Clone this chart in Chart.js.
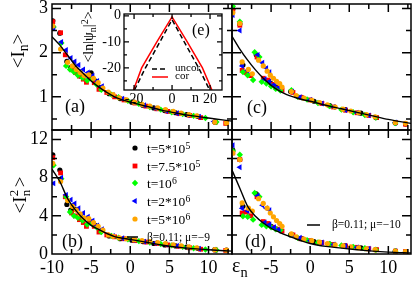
<!DOCTYPE html>
<html>
<head>
<meta charset="utf-8">
<script src="https://cdn.jsdelivr.net/npm/chart.js@4.4.1/dist/chart.umd.min.js"></script>
<style>
body { margin: 0; background: #fff; }
#fig { position: relative; width: 415px; height: 286px; overflow: hidden; font-family: "Liberation Serif", serif; color: #000; }
#fig canvas { position: absolute; left: 0; top: 0; }
.t { position: absolute; white-space: nowrap; line-height: 1; }
.rot { position: absolute; white-space: nowrap; line-height: 1; transform: translate(-50%, -50%) rotate(-90deg); }
.sb { font-size: .72em; position: relative; top: .32em; }
.sp { font-size: .72em; position: relative; top: -.45em; }
</style>
</head>
<body>
<div id="fig">
  <canvas id="pa" width="415" height="286"></canvas>
  <canvas id="pb" width="415" height="286"></canvas>
  <canvas id="pc" width="415" height="286"></canvas>
  <canvas id="pd" width="415" height="286"></canvas>
  <canvas id="pe" width="415" height="286"></canvas>

  <div class="rot" style="left:17px;top:51px;font-size:19px">&lt;I<span class="sb">n</span>&gt;</div>
  <div class="rot" style="left:19px;top:195px;font-size:19px">&lt;I<span style="display:inline-block;position:relative;width:9px;height:1px"><span style="position:absolute;left:0;top:-18px;font-size:13px">2</span><span style="position:absolute;left:0;top:-6px;font-size:13px">n</span></span>&gt;</div>
  <div class="rot" style="left:89px;top:37px;font-size:14px">&lt;ln|ψ<span class="sb">n</span>|<span class="sp">2</span>&gt;</div>

  <div class="t" style="left:65px;top:97px;font-size:18px">(a)</div>
  <div class="t" style="left:62px;top:232px;font-size:18px">(b)</div>
  <div class="t" style="left:247px;top:98px;font-size:18px">(c)</div>
  <div class="t" style="left:245px;top:232px;font-size:18px">(d)</div>
  <div class="t" style="left:192px;top:22px;font-size:16px">(e)</div>

  <div class="t" style="left:232px;top:255px;font-size:20px">ε<span class="sb">n</span></div>
  <div class="t" style="left:192px;top:91px;font-size:14px">n</div>

  <div class="t" style="left:147px;top:142px;font-size:13.5px">t=5*10<span class="sp">5</span></div>
  <div class="t" style="left:147px;top:160px;font-size:13.5px">t=7.5*10<span class="sp">5</span></div>
  <div class="t" style="left:147px;top:177px;font-size:13.5px">t=10<span class="sp">6</span></div>
  <div class="t" style="left:147px;top:195px;font-size:13.5px">t=2*10<span class="sp">6</span></div>
  <div class="t" style="left:147px;top:213px;font-size:13.5px">t=5*10<span class="sp">6</span></div>
  <div class="t" style="left:147px;top:232px;font-size:11.5px">β=0.11; μ=−9</div>
  <div class="t" style="left:332px;top:219px;font-size:11.5px">β=0.11; μ=−10</div>

  <div class="t" style="left:175px;top:62px;font-size:11px">uncor</div>
  <div class="t" style="left:175px;top:70px;font-size:11px">cor</div>
</div>

<script>
// ---- data ----
const seriesLabels = ['t=5*10^5', 't=7.5*10^5', 't=10^6', 't=2*10^6', 't=5*10^6'];

// left column, panels (a) <I_n> and (b) <I_n^2>
const epsLeft = [
  [-9.9, -9.0, -8.1, -7.6, -7.1, -6.4, -5.0, -4.5, -3.9, -2.7, -1.3, 0.2, 1.6, 3.0, 4.4, 5.8, 7.2, 8.6, 10.8, 12.3],
  [-9.9, -8.9, -8.3, -7.5, -7.0, -6.5, -6.0, -5.6, -5.2, -4.6, -4.0, -3.0, -2.0, -0.8, 0.6, 2.0, 3.4, 4.8, 6.2, 7.6, 9.0, 10.9, 12.2],
  [-9.8, -8.8, -8.2, -7.7, -7.2, -6.7, -6.1, -5.5, -4.9, -4.3, -3.7, -2.4, -1.5, -0.3, 1.1, 2.5, 3.9, 5.3, 6.7, 8.1, 9.6, 11.0],
  [-9.8, -8.8, -8.2, -7.6, -7.1, -6.6, -6.0, -5.4, -4.8, -4.2, -3.6, -2.2, -1.0, 0.4, 1.8, 3.2, 4.6, 6.0, 7.4, 8.8, 10.7],
  [-9.9, -8.9, -8.0, -7.4, -6.9, -6.4, -5.9, -5.3, -4.7, -4.1, -3.5, -2.8, -2.2, -1.4, -0.5, 0.5, 1.5, 2.5, 3.5, 4.5, 5.5, 6.5, 7.5, 8.5, 10.8, 12.3]
];
const meanA = [
  [2.72, 2.44, 1.80, 1.66, 1.64, 1.47, 1.54, 1.36, 1.21, 1.07, 0.96, 0.88, 0.81, 0.75, 0.69, 0.64, 0.60, 0.56, 0.43, 0.41],
  [2.70, 2.45, 1.95, 1.62, 1.55, 1.47, 1.40, 1.33, 1.45, 1.32, 1.17, 1.10, 1.00, 0.93, 0.86, 0.79, 0.73, 0.67, 0.62, 0.58, 0.53, 0.43, 0.40],
  [2.58, 2.22, 1.70, 1.62, 1.56, 1.49, 1.43, 1.37, 1.40, 1.28, 1.16, 1.05, 0.99, 0.91, 0.84, 0.77, 0.71, 0.65, 0.61, 0.57, 0.52, 0.43],
  [2.55, 2.24, 2.06, 1.88, 1.80, 1.72, 1.62, 1.55, 1.48, 1.36, 1.24, 1.04, 0.96, 0.88, 0.81, 0.74, 0.68, 0.63, 0.59, 0.55, 0.44],
  [2.60, 2.08, 1.78, 1.70, 1.62, 1.55, 1.48, 1.50, 1.42, 1.32, 1.20, 1.11, 1.05, 0.98, 0.93, 0.88, 0.83, 0.79, 0.75, 0.71, 0.67, 0.63, 0.60, 0.57, 0.43, 0.41]
];
const squareB = [
  [10.4, 8.8, 5.2, 4.6, 4.7, 4.0, 3.4, 3.0, 2.4, 1.9, 1.6, 1.45, 1.3, 1.1, 0.95, 0.85, 0.72, 0.6, 0.45, 0.4],
  [10.1, 8.5, 6.0, 4.3, 4.0, 3.6, 3.3, 2.9, 3.4, 2.9, 2.3, 2.0, 1.8, 1.6, 1.4, 1.25, 1.1, 0.95, 0.8, 0.65, 0.5, 0.42, 0.38],
  [9.3, 7.9, 6.0, 4.4, 4.0, 3.8, 3.5, 3.1, 3.2, 2.8, 2.3, 1.9, 1.7, 1.55, 1.35, 1.2, 1.05, 0.9, 0.75, 0.6, 0.47, 0.42],
  [7.4, 8.0, 6.2, 5.7, 5.3, 4.8, 4.3, 3.9, 3.5, 3.0, 2.6, 1.9, 1.65, 1.45, 1.3, 1.15, 1.0, 0.85, 0.7, 0.55, 0.45],
  [9.5, 7.6, 5.6, 5.0, 4.6, 4.2, 3.8, 3.7, 3.3, 2.9, 2.5, 2.0, 1.85, 1.7, 1.6, 1.5, 1.4, 1.3, 1.2, 1.1, 0.95, 0.85, 0.75, 0.65, 0.45, 0.4]
];

// right column, panels (c) <I_n> and (d) <I_n^2>
const epsRight = [
  [-9.9, -9.0, -8.6, -6.9, -5.0, -4.3, -2.5, -1.0, 0.5, 2.5, 4.5, 6.5, 8.4, 10.9, 12.2],
  [-9.9, -9.0, -8.7, -8.2, -7.6, -6.8, -6.0, -5.4, -4.8, -4.2, -3.6, -2.2, -1.2, 0.0, 1.5, 3.0, 4.5, 6.0, 7.5, 8.5, 10.9, 12.2],
  [-9.9, -9.0, -8.6, -8.0, -7.3, -7.1, -6.5, -6.2, -5.6, -5.0, -4.4, -3.8, -2.4, -1.6, -0.4, 1.0, 2.5, 4.0, 5.5, 7.0, 8.4, 10.9],
  [-9.9, -9.0, -8.7, -8.0, -6.7, -6.1, -5.6, -5.2, -5.8, -5.2, -4.6, -4.0, -2.3, -1.3, 0.0, 1.5, 3.0, 4.5, 6.0, 7.5, 10.9],
  [-9.9, -9.0, -8.7, -7.9, -7.4, -6.6, -6.0, -5.5, -5.1, -4.7, -4.3, -3.9, -3.6, -2.4, -1.8, -0.8, 0.2, 1.2, 2.2, 3.2, 4.2, 5.2, 6.2, 7.2, 8.3, 10.9, 12.2]
];
const meanC = [
  [2.98, 2.65, 1.72, 1.95, 1.30, 1.22, 1.12, 0.98, 0.90, 0.80, 0.71, 0.63, 0.53, 0.41, 0.39],
  [2.96, 2.62, 1.60, 1.55, 1.48, 1.90, 1.42, 1.38, 1.28, 1.20, 1.15, 1.10, 0.99, 0.93, 0.85, 0.77, 0.70, 0.64, 0.58, 0.53, 0.42, 0.38],
  [3.05, 2.70, 1.56, 1.49, 1.38, 2.01, 1.90, 1.34, 1.30, 1.24, 1.18, 1.14, 1.15, 1.00, 0.94, 0.86, 0.79, 0.71, 0.65, 0.59, 0.53, 0.41],
  [2.85, 2.50, 1.70, 1.60, 1.95, 1.77, 1.65, 1.56, 1.40, 1.35, 1.28, 1.22, 1.12, 0.99, 0.93, 0.85, 0.77, 0.70, 0.64, 0.58, 0.42],
  [2.90, 2.66, 1.79, 1.62, 1.52, 1.83, 1.70, 1.58, 1.49, 1.42, 1.35, 1.30, 1.22, 1.12, 1.03, 0.97, 0.92, 0.87, 0.82, 0.77, 0.72, 0.68, 0.64, 0.60, 0.55, 0.42, 0.40]
];
const squareD = [
  [10.9, 9.9, 5.0, 6.3, 2.9, 2.6, 2.0, 1.6, 1.3, 1.05, 0.85, 0.65, 0.45, 0.3, 0.25],
  [10.6, 9.9, 4.3, 4.4, 4.0, 6.0, 3.4, 3.2, 2.8, 2.6, 2.4, 2.0, 1.6, 1.4, 1.2, 1.0, 0.85, 0.7, 0.55, 0.45, 0.3, 0.25],
  [10.8, 10.4, 3.95, 3.9, 3.6, 6.4, 6.0, 3.05, 2.9, 2.8, 2.6, 2.5, 2.0, 1.7, 1.45, 1.2, 1.05, 0.9, 0.75, 0.6, 0.45, 0.3],
  [11.4, 9.1, 4.8, 4.5, 6.1, 5.1, 4.8, 4.6, 3.3, 3.1, 2.8, 2.6, 2.0, 1.7, 1.4, 1.2, 1.0, 0.85, 0.7, 0.55, 0.3],
  [10.6, 9.9, 5.35, 4.8, 4.5, 5.8, 5.3, 4.8, 4.3, 3.9, 3.5, 3.2, 2.9, 2.1, 1.8, 1.55, 1.4, 1.25, 1.1, 0.95, 0.85, 0.75, 0.65, 0.55, 0.45, 0.3, 0.25]
];

// fitted curves (beta=0.11; mu=-9 left, mu=-10 right)
const fitEpsLeft = [-10, -9, -8, -7, -6, -5, -4, -3, -2, -1, 0, 2, 4, 6, 8, 10, 13];
const fitA = [2.36, 2.17, 1.94, 1.71, 1.53, 1.36, 1.22, 1.10, 1.00, 0.93, 0.88, 0.79, 0.70, 0.63, 0.57, 0.52, 0.45];
const fitB = [8.9, 7.6, 5.8, 4.6, 3.7, 3.0, 2.55, 2.15, 1.83, 1.65, 1.52, 1.25, 0.95, 0.72, 0.56, 0.44, 0.3];
const fitEpsRight = [-10, -9, -8, -7, -6, -5, -4, -3, -2, -1, 0, 2, 4, 6, 8, 10, 12.9];
const fitC = [2.37, 2.08, 1.83, 1.61, 1.42, 1.26, 1.14, 1.05, 0.99, 0.94, 0.90, 0.81, 0.73, 0.65, 0.57, 0.49, 0.40];
const fitD = [8.8, 6.9, 5.0, 3.95, 3.25, 2.7, 2.3, 1.95, 1.65, 1.35, 1.1, 0.8, 0.62, 0.45, 0.3, 0.2, 0.12];

// inset (e)
const insetNUncor = [-19.8, -14, -7, 0, 7, 14, 19.8];
const insetUncor = [-28.5, -20, -10.8, -1.5, -10.8, -20, -28.5];
const insetNCor = [-20.3, -16, -8, 0, 8, 16, 21];
const insetCor = [-28.5, -20, -10, -0.4, -10, -20, -28.5];

// tick labels
const xLabelsLeft = [-10, -5, 0, 5, 10];
const xLabelsRight = [-5, 0, 5, 10];
const yLabelsTop = [1, 2, 3];
const yLabelsBottom = [0, 4, 8, 12];
const insetXLabels = [-20, 0, 20];
const insetYLabels = [0, -10, -20];

// ---- drawing ----
const serif = '"Liberation Serif", serif';
const seriesColor = ['#000000', '#ff0000', '#00ff00', '#0000ff', '#ffa500'];
const seriesShape = ['circle', 'rect', 'rectRot', 'triangle', 'circle'];
const seriesRot = [0, 0, 0, -90, 0];
const seriesRadius = [2.6, 3.4, 3.2, 3.4, 2.6];

const xTickMarks = [[-10, 8], [-7.5, 5], [-5, 8], [-2.5, 5], [0, 8], [2.5, 5], [5, 8], [7.5, 5], [10, 8], [12.5, 5]];
const yTickTop = [[0.5, 5], [1, 9], [1.5, 5], [2, 9], [2.5, 5], [3, 9]];
const yTickBottom = [[2, 5], [4, 9], [6, 5], [8, 9], [10, 5], [12, 9]];

function pts(xs, ys) {
  return xs.map((x, i) => ({ x: x, y: ys[i] }));
}

function scatterSets(epsList, valList) {
  return epsList.map((eps, i) => ({
    label: seriesLabels[i],
    data: pts(eps, valList[i]),
    pointStyle: seriesShape[i],
    rotation: seriesRot[i],
    pointRadius: seriesRadius[i],
    backgroundColor: seriesColor[i],
    borderColor: seriesColor[i],
    borderWidth: 0,
    order: 5 - i
  }));
}

function fitSet(xs, ys) {
  return {
    label: 'fit',
    data: pts(xs, ys),
    showLine: true,
    pointRadius: 0,
    borderColor: '#000',
    borderWidth: 1.4,
    cubicInterpolationMode: 'monotone',
    order: 0
  };
}

// box = pixel size reserved for the axis labels (the label area is clipped to it)
function axis(range, labels, size, pad, dir, box) {
  return {
    type: 'linear',
    min: range[0],
    max: range[1],
    grid: { display: false, drawTicks: false },
    border: { display: false },
    ticks: {
      display: labels.length > 0,
      color: '#000',
      font: { family: serif, size: size },
      padding: pad,
      maxRotation: 0,
      autoSkip: false
    },
    afterBuildTicks: s => {
      if (labels.length) s.ticks = labels.map(v => ({ value: v }));
    },
    afterFit: s => {
      if (dir === 'x') s.height = box; else s.width = box;
      s.paddingLeft = 0; s.paddingRight = 0; s.paddingTop = 0; s.paddingBottom = 0;
    }
  };
}

// frame with inward ticks on all four sides
function frameTicks(xt, yt, lw, white) {
  return {
    id: 'frameTicks',
    beforeDraw(chart) {
      if (!white) return;
      const a = chart.chartArea;
      chart.ctx.save();
      chart.ctx.fillStyle = '#fff';
      chart.ctx.fillRect(a.left, a.top, a.right - a.left, a.bottom - a.top);
      chart.ctx.restore();
    },
    afterDraw(chart) {
      const { ctx, chartArea: a, scales } = chart;
      ctx.save();
      ctx.strokeStyle = '#000';
      ctx.lineWidth = lw;
      ctx.beginPath();
      xt.forEach(([v, L]) => {
        const p = scales.x.getPixelForValue(v);
        if (p < a.left + 1 || p > a.right - 1) return;
        ctx.moveTo(p, a.bottom); ctx.lineTo(p, a.bottom - L);
        ctx.moveTo(p, a.top); ctx.lineTo(p, a.top + L);
      });
      yt.forEach(([v, L]) => {
        const p = scales.y.getPixelForValue(v);
        if (p < a.top + 1 || p > a.bottom - 1) return;
        ctx.moveTo(a.left, p); ctx.lineTo(a.left + L, p);
        ctx.moveTo(a.right, p); ctx.lineTo(a.right - L, p);
      });
      ctx.stroke();
      ctx.strokeRect(a.left, a.top, a.right - a.left, a.bottom - a.top);
      ctx.restore();
    }
  };
}

// area = [left, top, right, bottom] of the plot, boxes = [y label width, x label height]
function panel(id, area, boxes, xr, yr, datasets, xl, yl, xt, yt, fs, extra) {
  const plugins = [frameTicks(xt, yt, fs.lw, fs.white)];
  if (extra) plugins.push(extra);
  const pad = {
    left: area[0] - boxes[0],
    top: area[1],
    right: 415 - area[2],
    bottom: 286 - area[3] - boxes[1]
  };
  return new Chart(document.getElementById(id), {
    type: 'scatter',
    data: { datasets: datasets },
    options: {
      responsive: false,
      animation: false,
      devicePixelRatio: 1,
      events: [],
      layout: { padding: pad },
      plugins: { legend: { display: false }, tooltip: { enabled: false } },
      scales: {
        x: axis(xr, xl, fs.size, fs.xpad, 'x', boxes[1]),
        y: axis(yr, yl, fs.size, fs.ypad, 'y', boxes[0])
      }
    },
    plugins: plugins
  });
}

const big = { size: 18, xpad: 3, ypad: 4, lw: 1.5, white: false };

// legend of panel (b): symbols and line
const legendB = {
  id: 'legendB',
  afterDraw(chart) {
    const ctx = chart.ctx;
    const rows = [148, 166, 183, 201, 219];
    ctx.save();
    rows.forEach((y, i) => {
      ctx.fillStyle = seriesColor[i];
      ctx.strokeStyle = seriesColor[i];
      Chart.helpers.drawPoint(ctx, { pointStyle: seriesShape[i], rotation: seriesRot[i], radius: seriesRadius[i], borderWidth: 0 }, 135, y);
    });
    ctx.strokeStyle = '#000';
    ctx.lineWidth = 1.5;
    ctx.beginPath();
    ctx.moveTo(127, 237); ctx.lineTo(138, 237);
    ctx.stroke();
    ctx.restore();
  }
};
const legendD = {
  id: 'legendD',
  afterDraw(chart) {
    const ctx = chart.ctx;
    ctx.save();
    ctx.strokeStyle = '#000';
    ctx.lineWidth = 1.5;
    ctx.beginPath();
    ctx.moveTo(307, 225); ctx.lineTo(320, 225);
    ctx.stroke();
    ctx.restore();
  }
};
const legendE = {
  id: 'legendE',
  afterDraw(chart) {
    const ctx = chart.ctx;
    ctx.save();
    ctx.lineWidth = 1.5;
    ctx.strokeStyle = '#000';
    ctx.setLineDash([5, 3]);
    ctx.beginPath(); ctx.moveTo(152, 69); ctx.lineTo(168, 69); ctx.stroke();
    ctx.setLineDash([]);
    ctx.strokeStyle = '#ff0000';
    ctx.beginPath(); ctx.moveTo(152, 77); ctx.lineTo(168, 77); ctx.stroke();
    ctx.restore();
  }
};

panel('pa', [52, 4, 232, 130], [52, 0], [-10, 13], [0.25, 3.1],
  scatterSets(epsLeft, meanA).concat([fitSet(fitEpsLeft, fitA)]),
  [], yLabelsTop, xTickMarks, yTickTop, big);

panel('pb', [52, 130, 232, 254], [52, 30], [-10, 13], [0, 13],
  scatterSets(epsLeft, squareB).concat([fitSet(fitEpsLeft, fitB)]),
  xLabelsLeft, yLabelsBottom, xTickMarks, yTickBottom, big, legendB);

panel('pc', [232, 4, 413, 130], [0, 0], [-10, 12.9], [0.25, 3.1],
  scatterSets(epsRight, meanC).concat([fitSet(fitEpsRight, fitC)]),
  [], [], xTickMarks, yTickTop, big);

panel('pd', [232, 130, 413, 254], [0, 30], [-10, 12.9], [0, 13],
  scatterSets(epsRight, squareD).concat([fitSet(fitEpsRight, fitD)]),
  xLabelsRight, [], xTickMarks, yTickBottom, big, legendD);

panel('pe', [124, 14, 222, 90], [28, 16], [-25.3, 26.3], [-28.5, 0.7],
  [
    { label: 'uncor', data: pts(insetNUncor, insetUncor), showLine: true, pointRadius: 0,
      borderColor: '#000', borderWidth: 1.5, borderDash: [5, 3], order: 1 },
    { label: 'cor', data: pts(insetNCor, insetCor), showLine: true, pointRadius: 0,
      borderColor: '#ff0000', borderWidth: 1.5, order: 0 }
  ],
  insetXLabels, insetYLabels,
  [[-20, 5], [-10, 3], [0, 5], [10, 3], [20, 5]],
  [[0, 5], [-5, 3], [-10, 5], [-15, 3], [-20, 5], [-25, 3]],
  { size: 14, xpad: 1, ypad: 3, lw: 1.3, white: true }, legendE);
</script>
</body>
</html>
